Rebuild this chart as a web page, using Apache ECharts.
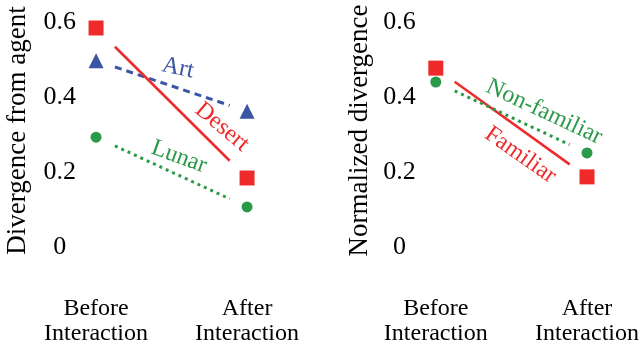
<!DOCTYPE html>
<html><head><meta charset="utf-8">
<script src="https://cdn.jsdelivr.net/npm/echarts@6/dist/echarts.min.js"></script>
<style>html,body{margin:0;padding:0;background:#fff}#c{width:642px;height:346px}</style>
</head><body><div id="c"></div>
<script>
// ---- data ----
var categories = ['Before\nInteraction', 'After\nInteraction'];
var yTicks = ['0', '0.2', '0.4', '0.6'];
// left panel: Divergence from agent
var artValues = [0.497, 0.362];
var desertValues = [0.584, 0.184];
var lunarValues = [0.293, 0.107];
// right panel: Normalized divergence
var familiarValues = [0.477, 0.187];
var nonFamiliarValues = [0.440, 0.251];

// ---- styling / layout ----
var RED = '#ee2a2a', BLUE = '#3b55a5', GREEN = '#2a9a48';
var FONT = '"Liberation Serif", "Times New Roman", serif';
var SEG = [0.125, 0.885]; // fraction of the way between points where connector lines start/end

function seg(vals) {
  return SEG.map(function (f) { return [f, vals[0] + f * (vals[1] - vals[0])]; });
}
function pts(vals) { return vals.map(function (v, i) { return [i, v]; }); }

var chart = echarts.init(document.getElementById('c'), null, {renderer: 'canvas'});

function xAxisCfg(gi) {
  return {
    gridIndex: gi, type: 'value', min: -0.24, max: 1.24,
    axisLine: {show: false}, axisTick: {show: false}, splitLine: {show: false},
    axisLabel: {
      customValues: [0, 1], margin: 49, color: '#000', fontFamily: FONT, fontSize: 24, lineHeight: 25,
      formatter: function (v) { return categories[Math.round(v)]; }
    }
  };
}
function yAxisCfg(gi, name, gap) {
  return {
    gridIndex: gi, type: 'value', min: 0, max: 0.6, interval: 0.2,
    name: name, nameLocation: 'middle', nameGap: gap, nameRotate: 90,
    nameTextStyle: {color: '#000', fontFamily: FONT, fontSize: 27, padding: [0, 0, 0, 8]},
    axisLine: {show: false}, axisTick: {show: false}, splitLine: {show: false},
    axisLabel: {
      margin: 0, align: 'center', color: '#000', fontFamily: FONT, fontSize: 26,
      formatter: function (v) { return yTicks[Math.round(v / 0.2)]; }
    }
  };
}

function marker(gi, vals, symbol, size, color) {
  return {type: 'scatter', xAxisIndex: gi, yAxisIndex: gi, data: pts(vals), symbol: symbol,
    symbolSize: size, itemStyle: {color: color, opacity: 1}, silent: true, z: 3};
}
function connector(gi, vals, color, width, type) {
  return {type: 'line', xAxisIndex: gi, yAxisIndex: gi, data: seg(vals), showSymbol: false,
    lineStyle: {color: color, width: width, type: type, cap: 'butt', opacity: 1}, silent: true, z: 2};
}
function tag(gi, text, anchor, rot, color) {
  return {type: 'scatter', xAxisIndex: gi, yAxisIndex: gi, data: [anchor], symbolSize: 0, silent: true, z: 4,
    itemStyle: {opacity: 1},
    label: {show: true, position: 'inside', formatter: text, rotate: rot, color: color,
      fontFamily: FONT, fontSize: 24}};
}

chart.setOption({
  animation: false,
  grid: [
    {left: 59.8, top: 22, width: 223.5, height: 225},
    {left: 399.5, top: 22, width: 225, height: 225}
  ],
  xAxis: [xAxisCfg(0), xAxisCfg(1)],
  yAxis: [yAxisCfg(0, 'Divergence from agent', 28), yAxisCfg(1, 'Normalized divergence', 26)],
  series: [
    connector(0, artValues, BLUE, 3, [7, 5]),
    connector(0, desertValues, RED, 2.5, 'solid'),
    connector(0, lunarValues, GREEN, 3, [3, 4]),
    marker(0, artValues, 'triangle', 15, BLUE),
    marker(0, desertValues, 'rect', 15, RED),
    marker(0, lunarValues, 'circle', 11, GREEN),
    tag(0, 'Art', [0.543, 0.477], -12, BLUE),
    tag(0, 'Desert', [0.834, 0.32], -40, RED),
    tag(0, 'Lunar', [0.55, 0.24], -20, GREEN),

    connector(1, familiarValues, RED, 2.5, 'solid'),
    connector(1, nonFamiliarValues, GREEN, 3, [3, 4]),
    marker(1, familiarValues, 'rect', 15, RED),
    marker(1, nonFamiliarValues, 'circle', 11, GREEN),
    tag(1, 'Non-familiar', [0.717, 0.36], -25, GREEN),
    tag(1, 'Familiar', [0.559, 0.245], -35, RED)
  ]
});
</script></body></html>
